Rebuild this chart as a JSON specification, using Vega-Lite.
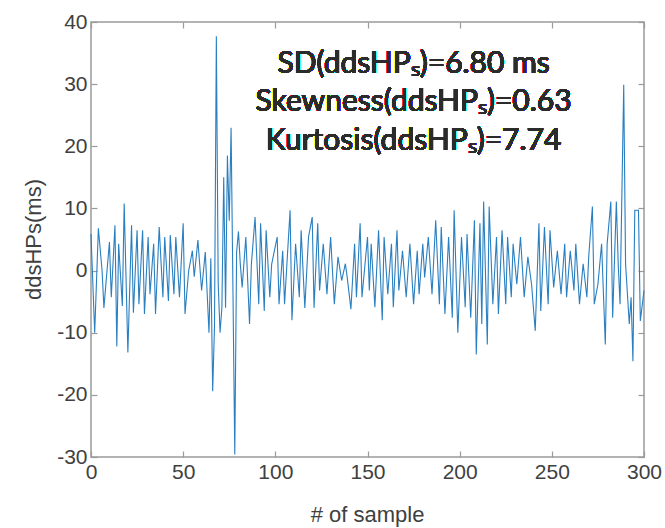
{
  "$schema": "https://vega.github.io/schema/vega-lite/v6.json",
  "width": 553,
  "height": 435,
  "autosize": "none",
  "padding": {"left": 91, "top": 22, "right": 21, "bottom": 71},
  "background": "white",
  "config": {
    "view": {"stroke": "#9a9a9a", "strokeWidth": 1.5},
    "font": "Liberation Sans"
  },
  "data": {"values": [
    {"sample": 0, "ddsHPs": 5.9}, {"sample": 2, "ddsHPs": -10}, {"sample": 4, "ddsHPs": 6.8}, {"sample": 6, "ddsHPs": 0},
    {"sample": 7, "ddsHPs": -6}, {"sample": 10, "ddsHPs": 4.6}, {"sample": 11, "ddsHPs": -4.3}, {"sample": 13, "ddsHPs": 7.3},
    {"sample": 14, "ddsHPs": -12.2}, {"sample": 15, "ddsHPs": 4.3}, {"sample": 17, "ddsHPs": -5.7}, {"sample": 18, "ddsHPs": 10.8},
    {"sample": 20, "ddsHPs": -13.2}, {"sample": 22, "ddsHPs": 7.3}, {"sample": 23, "ddsHPs": -6.8}, {"sample": 25, "ddsHPs": 6.5},
    {"sample": 26, "ddsHPs": -5.4}, {"sample": 28, "ddsHPs": 6.5}, {"sample": 29, "ddsHPs": -7}, {"sample": 31, "ddsHPs": 5.4},
    {"sample": 32, "ddsHPs": -3.8}, {"sample": 34, "ddsHPs": 4.3}, {"sample": 35, "ddsHPs": -7}, {"sample": 37, "ddsHPs": 7},
    {"sample": 39, "ddsHPs": -4.3}, {"sample": 40, "ddsHPs": 5.4}, {"sample": 42, "ddsHPs": -4.9}, {"sample": 43, "ddsHPs": 5.7},
    {"sample": 45, "ddsHPs": -3.8}, {"sample": 46, "ddsHPs": 5.4}, {"sample": 48, "ddsHPs": -4.3}, {"sample": 50, "ddsHPs": 7.6},
    {"sample": 51, "ddsHPs": -7}, {"sample": 53, "ddsHPs": 0}, {"sample": 55, "ddsHPs": 3.2}, {"sample": 56, "ddsHPs": -1},
    {"sample": 58, "ddsHPs": 4.9}, {"sample": 60, "ddsHPs": -3.2}, {"sample": 62, "ddsHPs": 3.0}, {"sample": 64, "ddsHPs": -10},
    {"sample": 65, "ddsHPs": 2}, {"sample": 66, "ddsHPs": -19.4}, {"sample": 67, "ddsHPs": -9}, {"sample": 68, "ddsHPs": 37.7},
    {"sample": 69, "ddsHPs": -2}, {"sample": 70, "ddsHPs": -10}, {"sample": 71, "ddsHPs": -6}, {"sample": 72, "ddsHPs": 15},
    {"sample": 73, "ddsHPs": -6}, {"sample": 74, "ddsHPs": 18.5}, {"sample": 75, "ddsHPs": 8}, {"sample": 76, "ddsHPs": 23},
    {"sample": 77, "ddsHPs": -3}, {"sample": 78, "ddsHPs": -29.6}, {"sample": 79, "ddsHPs": 3}, {"sample": 80, "ddsHPs": 6.3},
    {"sample": 81, "ddsHPs": 1}, {"sample": 82, "ddsHPs": -2.7}, {"sample": 84, "ddsHPs": 5.4}, {"sample": 86, "ddsHPs": -8.6},
    {"sample": 87, "ddsHPs": 1}, {"sample": 89, "ddsHPs": 8.6}, {"sample": 91, "ddsHPs": -5.4}, {"sample": 92, "ddsHPs": 7.6},
    {"sample": 94, "ddsHPs": -6.5}, {"sample": 95, "ddsHPs": 6.5}, {"sample": 97, "ddsHPs": -4.3}, {"sample": 98, "ddsHPs": 1},
    {"sample": 101, "ddsHPs": 5.4}, {"sample": 102, "ddsHPs": -5.4}, {"sample": 104, "ddsHPs": 3.2}, {"sample": 105, "ddsHPs": -5.4},
    {"sample": 108, "ddsHPs": 9.7}, {"sample": 109, "ddsHPs": -8}, {"sample": 111, "ddsHPs": 4.3}, {"sample": 113, "ddsHPs": -4.3},
    {"sample": 114, "ddsHPs": 6.5}, {"sample": 116, "ddsHPs": -6}, {"sample": 118, "ddsHPs": 5.4}, {"sample": 120, "ddsHPs": 8.6},
    {"sample": 121, "ddsHPs": -6}, {"sample": 123, "ddsHPs": 7.6}, {"sample": 124, "ddsHPs": -3.2}, {"sample": 126, "ddsHPs": 4.3},
    {"sample": 128, "ddsHPs": -3.8}, {"sample": 130, "ddsHPs": 5.4}, {"sample": 132, "ddsHPs": -5.4}, {"sample": 134, "ddsHPs": 2.2},
    {"sample": 136, "ddsHPs": -1.6}, {"sample": 138, "ddsHPs": 1.1}, {"sample": 139, "ddsHPs": -1.1}, {"sample": 141, "ddsHPs": -6.2},
    {"sample": 143, "ddsHPs": 4.3}, {"sample": 144, "ddsHPs": -4.3}, {"sample": 146, "ddsHPs": 7.6}, {"sample": 147, "ddsHPs": -4.3},
    {"sample": 150, "ddsHPs": 5.4}, {"sample": 151, "ddsHPs": -3.2}, {"sample": 152, "ddsHPs": 4.3}, {"sample": 154, "ddsHPs": -5.9},
    {"sample": 156, "ddsHPs": 6.5}, {"sample": 158, "ddsHPs": -8}, {"sample": 159, "ddsHPs": 5.4}, {"sample": 161, "ddsHPs": -3.8},
    {"sample": 163, "ddsHPs": 4.3}, {"sample": 164, "ddsHPs": -5.9}, {"sample": 166, "ddsHPs": 6.5}, {"sample": 167, "ddsHPs": -3.2},
    {"sample": 169, "ddsHPs": 3.2}, {"sample": 171, "ddsHPs": -4.3}, {"sample": 173, "ddsHPs": 4.3}, {"sample": 175, "ddsHPs": -5.4},
    {"sample": 177, "ddsHPs": 3.2}, {"sample": 178, "ddsHPs": -3.8}, {"sample": 180, "ddsHPs": 4.3}, {"sample": 181, "ddsHPs": -1.1},
    {"sample": 183, "ddsHPs": 5.4}, {"sample": 185, "ddsHPs": -3.8}, {"sample": 187, "ddsHPs": 8.1}, {"sample": 189, "ddsHPs": -5.4},
    {"sample": 190, "ddsHPs": 7}, {"sample": 192, "ddsHPs": -7}, {"sample": 194, "ddsHPs": 5.4}, {"sample": 196, "ddsHPs": -7.6},
    {"sample": 197, "ddsHPs": 9.7}, {"sample": 199, "ddsHPs": -10}, {"sample": 201, "ddsHPs": 5.4}, {"sample": 203, "ddsHPs": -5.9},
    {"sample": 204, "ddsHPs": 5.9}, {"sample": 206, "ddsHPs": -7.6}, {"sample": 208, "ddsHPs": 8.1}, {"sample": 209, "ddsHPs": -13.5},
    {"sample": 211, "ddsHPs": 7.6}, {"sample": 212, "ddsHPs": -8.6}, {"sample": 213, "ddsHPs": 11.1}, {"sample": 215, "ddsHPs": -11.9},
    {"sample": 216, "ddsHPs": 10.3}, {"sample": 218, "ddsHPs": -5.4}, {"sample": 220, "ddsHPs": 5.4}, {"sample": 221, "ddsHPs": -7},
    {"sample": 223, "ddsHPs": 6.5}, {"sample": 225, "ddsHPs": -5.4}, {"sample": 226, "ddsHPs": 5.4}, {"sample": 228, "ddsHPs": -4.3},
    {"sample": 229, "ddsHPs": 4.3}, {"sample": 231, "ddsHPs": -2.2}, {"sample": 233, "ddsHPs": 5.4}, {"sample": 235, "ddsHPs": -4.3},
    {"sample": 237, "ddsHPs": 2.2}, {"sample": 239, "ddsHPs": -2.2}, {"sample": 241, "ddsHPs": -9.7}, {"sample": 243, "ddsHPs": 7.6},
    {"sample": 244, "ddsHPs": -6.5}, {"sample": 246, "ddsHPs": 7}, {"sample": 248, "ddsHPs": -5.4}, {"sample": 249, "ddsHPs": 6.5},
    {"sample": 251, "ddsHPs": -2.7}, {"sample": 253, "ddsHPs": 3.2}, {"sample": 255, "ddsHPs": -3.8}, {"sample": 257, "ddsHPs": 4.3},
    {"sample": 258, "ddsHPs": -4.3}, {"sample": 260, "ddsHPs": 3.2}, {"sample": 262, "ddsHPs": -3.2}, {"sample": 263, "ddsHPs": 4.3},
    {"sample": 265, "ddsHPs": -5.4}, {"sample": 267, "ddsHPs": 1.1}, {"sample": 269, "ddsHPs": -4.3}, {"sample": 270, "ddsHPs": 2.2},
    {"sample": 272, "ddsHPs": 10.3}, {"sample": 273, "ddsHPs": -5.4}, {"sample": 275, "ddsHPs": -2.2}, {"sample": 277, "ddsHPs": 4.3},
    {"sample": 279, "ddsHPs": -11.9}, {"sample": 280, "ddsHPs": 4.3}, {"sample": 282, "ddsHPs": 11.1}, {"sample": 283, "ddsHPs": -7.6},
    {"sample": 285, "ddsHPs": 11.1}, {"sample": 286, "ddsHPs": 1.1}, {"sample": 287, "ddsHPs": -5.4}, {"sample": 289, "ddsHPs": 29.9},
    {"sample": 290, "ddsHPs": 1.1}, {"sample": 292, "ddsHPs": -8.6}, {"sample": 293, "ddsHPs": -4.3}, {"sample": 294, "ddsHPs": -14.6},
    {"sample": 295, "ddsHPs": 9.7}, {"sample": 297, "ddsHPs": 9.7}, {"sample": 298, "ddsHPs": -8.1}, {"sample": 300, "ddsHPs": -3.2}
  ]},
  "layer": [
    {
      "mark": {"type": "line", "color": "#2a7fc0", "strokeWidth": 1.1},
      "encoding": {
        "x": {
          "field": "sample", "type": "quantitative",
          "scale": {"domain": [0, 300], "nice": false},
          "axis": {
            "orient": "bottom", "values": [0, 50, 100, 150, 200, 250, 300],
            "grid": false, "domain": false, "tickSize": -6, "tickColor": "#9a9a9a", "tickWidth": 1.2,
            "labelFontSize": 21, "labelColor": "#404040", "labelPadding": 10, "labelBaseline": "top", "labelFlush": false,
            "title": "# of sample", "titleFontSize": 22, "titleFontWeight": "normal", "titleColor": "#404040",
            "titleX": 276, "titleY": 57, "titleBaseline": "middle", "titleAlign": "center"
          }
        },
        "y": {
          "field": "ddsHPs", "type": "quantitative",
          "scale": {"domain": [-30, 40], "nice": false},
          "axis": {
            "orient": "left", "values": [-30, -20, -10, 0, 10, 20, 30, 40],
            "labelExpr": "'' + datum.value",
            "grid": false, "domain": false, "tickSize": -6, "tickColor": "#9a9a9a", "tickWidth": 1.2,
            "labelFontSize": 21, "labelColor": "#404040", "labelPadding": 10, "labelFlush": false,
            "title": "ddsHPs(ms)", "titleFontSize": 22, "titleFontWeight": "normal", "titleColor": "#404040",
            "titleAngle": -90, "titleX": -58, "titleY": 217, "titleBaseline": "middle", "titleAlign": "center"
          }
        }
      }
    },
    {
      "mark": {"type": "line", "opacity": 0},
      "encoding": {
        "x": {
          "field": "sample", "type": "quantitative",
          "axis": {"orient": "top", "values": [0, 50, 100, 150, 200, 250, 300], "grid": false, "domain": false,
                   "tickSize": -6, "tickColor": "#9a9a9a", "tickWidth": 1.2, "labels": false, "title": null}
        },
        "y": {
          "field": "ddsHPs", "type": "quantitative",
          "axis": {"orient": "right", "values": [-30, -20, -10, 0, 10, 20, 30, 40], "grid": false, "domain": false,
                   "tickSize": -6, "tickColor": "#9a9a9a", "tickWidth": 1.2, "labels": false, "title": null}
        }
      }
    },
    {
      "mark": {"type": "text", "font": "Lato", "fontSize": 30, "color": "#2b2b2b", "align": "center",
               "baseline": "alphabetic", "lineHeight": 38.3},
      "encoding": {
        "x": {"datum": 175, "type": "quantitative", "axis": null},
        "y": {"datum": 31.8, "type": "quantitative", "axis": null},
        "text": {"value": ["SD(ddsHPₛ)=6.80 ms", "Skewness(ddsHPₛ)=0.63", "Kurtosis(ddsHPₛ)=7.74"]}
      }
    }
  ],
  "resolve": {"axis": {"x": "independent", "y": "independent"}}
}
